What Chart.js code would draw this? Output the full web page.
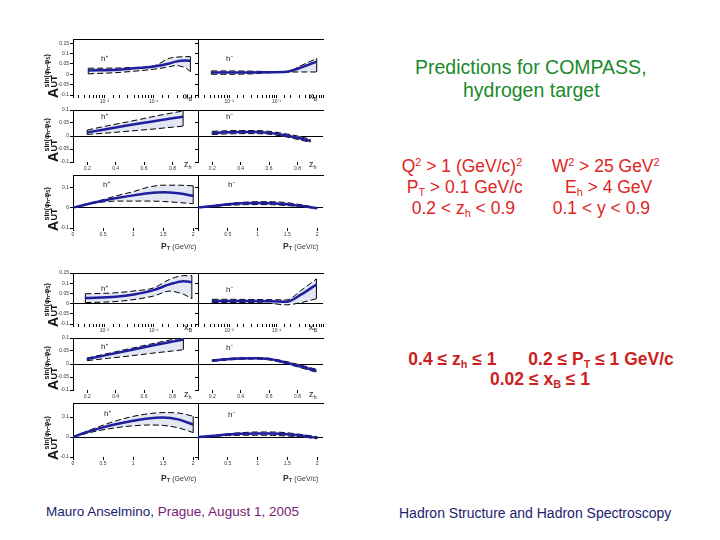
<!DOCTYPE html>
<html>
<head>
<meta charset="utf-8">
<script src="https://cdn.jsdelivr.net/npm/chart.js@4.4.1/dist/chart.umd.min.js"></script>
<style>
html,body{margin:0;padding:0;background:#fff;}
#page{position:relative;width:720px;height:540px;overflow:hidden;font-family:"Liberation Sans",Arial,sans-serif;background:#fff;}
#page canvas{position:absolute;}
.t{position:absolute;white-space:nowrap;line-height:1;}
.t sub,.t sup{font-size:62%;line-height:0;}
.t sub{vertical-align:-0.28em;}
.t sup{vertical-align:0.55em;}
.ylab{position:absolute;transform:rotate(-90deg);transform-origin:0 0;width:60px;height:20px;}
.ylab span{position:absolute;white-space:nowrap;line-height:1;color:#111;font-weight:bold;}
.ylab sub{font-size:70%;line-height:0;vertical-align:-0.2em;}
</style>
</head>
<body>
<div id="page"></div>
<script>
// ---------------- data ----------------
// tick values
const Y_TICKS_A = [-0.1, -0.05, 0, 0.05, 0.1, 0.15];
const Y_TICKS_B = [-0.1, -0.05, 0, 0.05, 0.1];
const Y_TICKS_C = [-0.1, 0, 0.1];
const Z_TICKS = [0.2, 0.4, 0.6, 0.8];
const PT_TICKS = [0, 0.5, 1, 1.5, 2];
const HADRONS = ['h<sup>+</sup>', 'h<sup>−</sup>'];

// Row 1: vs x_B (h+ / h-)
const A1_X = [0.0047, 0.018, 0.033, 0.1, 0.21, 0.28, 0.45, 0.56];
const A1_C = [0.018, 0.022, 0.027, 0.037, 0.052, 0.061, 0.066, 0.065];
const A1_U = [0.029, 0.030, 0.032, 0.040, 0.077, 0.082, 0.085, 0.085];
const A1_L = [0.002, 0.008, 0.013, 0.024, 0.036, 0.042, 0.030, 0.013];

const A2_X = [0.0042, 0.01, 0.03, 0.08, 0.16, 0.35, 0.7];
const A2_C = [0.008, 0.009, 0.009, 0.010, 0.012, 0.035, 0.061];
const A2_U = [0.016, 0.016, 0.015, 0.013, 0.013, 0.045, 0.076];
const A2_L = [0.000, 0.000, 0.002, 0.008, 0.011, 0.011, 0.011];

// Row 2: vs z_h
const B1_X = [0.2, 0.35, 0.5, 0.65, 0.8, 0.875];
const B1_C = [0.014, 0.028, 0.042, 0.055, 0.068, 0.074];
const B1_U = [0.023, 0.040, 0.056, 0.073, 0.089, 0.096];
const B1_L = [0.006, 0.012, 0.019, 0.026, 0.034, 0.038];

const B2_X = [0.2, 0.3, 0.4, 0.5, 0.6, 0.7, 0.8, 0.89];
const B2_C = [0.012, 0.014, 0.015, 0.015, 0.012, 0.004, -0.007, -0.019];
const B2_U = [0.018, 0.020, 0.021, 0.021, 0.018, 0.010, 0.000, -0.012];
const B2_L = [0.006, 0.008, 0.009, 0.009, 0.007, -0.001, -0.013, -0.024];

// Row 3: vs P_T
const C_X = [0, 0.25, 0.5, 0.75, 1, 1.25, 1.5, 1.75, 2];
const C1_C = [0, 0.018, 0.034, 0.048, 0.060, 0.070, 0.075, 0.070, 0.058];
const C1_U = [0, 0.020, 0.039, 0.060, 0.078, 0.100, 0.110, 0.110, 0.107];
const C1_L = [0, 0.016, 0.028, 0.032, 0.032, 0.032, 0.030, 0.025, 0.019];

const C2_C = [0, 0.008, 0.016, 0.021, 0.023, 0.022, 0.017, 0.008, -0.003];
const C2_U = [0, 0.010, 0.020, 0.026, 0.029, 0.029, 0.024, 0.013, 0.000];
const C2_L = [0, 0.006, 0.011, 0.014, 0.015, 0.014, 0.010, 0.004, -0.005];

// Row 4: vs x_B (restricted cuts)
const D1_X = [0.0041, 0.017, 0.04, 0.1, 0.21, 0.41, 0.6];
const D1_C = [0.027, 0.034, 0.045, 0.066, 0.094, 0.110, 0.106];
const D1_U = [0.048, 0.053, 0.062, 0.077, 0.118, 0.137, 0.137];
const D1_L = [0.005, 0.010, 0.020, 0.037, 0.061, 0.045, 0.024];

const D2_X = [0.0044, 0.01, 0.03, 0.08, 0.16, 0.33, 0.69];
const D2_C = [0.013, 0.013, 0.013, 0.012, 0.009, 0.045, 0.094];
const D2_U = [0.021, 0.021, 0.020, 0.019, 0.018, 0.065, 0.121];
const D2_L = [0.005, 0.005, 0.005, 0.000, -0.006, 0.005, 0.024];

// Row 5: vs z_h
const E1_X = [0.2, 0.35, 0.5, 0.65, 0.8, 0.877];
const E1_C = [0.019, 0.036, 0.053, 0.070, 0.086, 0.094];
const E1_U = [0.023, 0.041, 0.059, 0.077, 0.094, 0.100];
const E1_L = [0.013, 0.022, 0.031, 0.041, 0.050, 0.055];

const E2_X = [0.2, 0.3, 0.4, 0.5, 0.6, 0.7, 0.8, 0.93];
const E2_C = [0.013, 0.018, 0.021, 0.022, 0.019, 0.008, -0.006, -0.026];
const E2_U = [0.016, 0.021, 0.024, 0.025, 0.022, 0.012, -0.001, -0.020];
const E2_L = [0.010, 0.015, 0.018, 0.019, 0.016, 0.004, -0.011, -0.031];

// Row 6: vs P_T
const F_X = [0, 0.25, 0.5, 0.75, 1, 1.25, 1.5, 1.75, 2];
const F1_C = [0, 0.026, 0.048, 0.066, 0.081, 0.093, 0.097, 0.088, 0.062];
const F1_U = [0, 0.031, 0.059, 0.084, 0.103, 0.116, 0.122, 0.120, 0.104];
const F1_L = [0, 0.020, 0.036, 0.048, 0.056, 0.060, 0.058, 0.046, 0.022];

const F2_C = [0, 0.006, 0.012, 0.016, 0.018, 0.018, 0.014, 0.006, -0.004];
const F2_U = [0, 0.008, 0.016, 0.022, 0.025, 0.025, 0.021, 0.012, 0.002];
const F2_L = [0, 0.004, 0.007, 0.009, 0.009, 0.008, 0.005, 0.000, -0.009];

// ---------------- layout ----------------
const page = document.getElementById('page');
const FONT = '"Liberation Sans", Arial, sans-serif';
Chart.defaults.font.family = FONT;

const ROWS = [
  {top: 39,  bottom: 95,  ymin: -0.1, ymax: 0.17, yt: Y_TICKS_A, zero: false, kind: 'xB'},
  {top: 110, bottom: 162, ymin: -0.1, ymax: 0.1,  yt: Y_TICKS_B, zero: true,  kind: 'z'},
  {top: 175, bottom: 228, ymin: -0.1, ymax: 0.16, yt: Y_TICKS_C, zero: true,  kind: 'pt'},
  {top: 273, bottom: 324, ymin: -0.1, ymax: 0.15, yt: Y_TICKS_A, zero: true,  kind: 'xB'},
  {top: 338, bottom: 390, ymin: -0.1, ymax: 0.1,  yt: Y_TICKS_B, zero: true,  kind: 'z'},
  {top: 403, bottom: 457, ymin: -0.1, ymax: 0.17, yt: Y_TICKS_C, zero: true,  kind: 'pt'}
];

const PANELS = [
  {row: 0, side: 'L', x: A1_X, c: A1_C, u: A1_U, l: A1_L},
  {row: 0, side: 'R', x: A2_X, c: A2_C, u: A2_U, l: A2_L},
  {row: 1, side: 'L', x: B1_X, c: B1_C, u: B1_U, l: B1_L},
  {row: 1, side: 'R', x: B2_X, c: B2_C, u: B2_U, l: B2_L},
  {row: 2, side: 'L', x: C_X,  c: C1_C, u: C1_U, l: C1_L},
  {row: 2, side: 'R', x: C_X,  c: C2_C, u: C2_U, l: C2_L},
  {row: 3, side: 'L', x: D1_X, c: D1_C, u: D1_U, l: D1_L},
  {row: 3, side: 'R', x: D2_X, c: D2_C, u: D2_U, l: D2_L},
  {row: 4, side: 'L', x: E1_X, c: E1_C, u: E1_U, l: E1_L},
  {row: 4, side: 'R', x: E2_X, c: E2_C, u: E2_U, l: E2_L},
  {row: 5, side: 'L', x: F_X,  c: F1_C, u: F1_U, l: F1_L},
  {row: 5, side: 'R', x: F_X,  c: F2_C, u: F2_U, l: F2_L}
];

function sup10(v) {
  const e = Math.round(Math.log10(v));
  const m = {'-': '⁻', '0': '⁰', '1': '¹', '2': '²', '3': '³', '4': '⁴'};
  return '10' + String(e).split('').map(ch => m[ch]).join('');
}

function makePanel(p) {
  const r = ROWS[p.row];
  const left = p.side === 'L';
  const axW = left ? 40 : 8;
  const plotL = left ? 73 : 198;
  const plotW = 125, padT = 5, padR = 2, axH = 14;
  const W = axW + plotW + padR;
  const H = padT + (r.bottom - r.top) + axH;
  const cv = document.createElement('canvas');
  cv.width = W; cv.height = H;
  cv.style.left = (plotL - axW) + 'px';
  cv.style.top = (r.top - padT) + 'px';
  cv.style.width = W + 'px'; cv.style.height = H + 'px';
  page.appendChild(cv);

  const pts = ys => p.x.map((x, i) => ({x: x, y: ys[i]}));
  const n = p.x.length - 1;

  const tickFont = {family: FONT, size: 5};
  const xCommon = {
    position: 'bottom',
    grid: {display: true, drawOnChartArea: false, drawTicks: true, tickLength: 3, tickColor: '#000', color: '#000'},
    border: {display: false},
    afterFit: s => { s.height = axH; s.paddingLeft = 0; s.paddingRight = 0; }
  };
  let xScale;
  if (r.kind === 'xB') {
    xScale = Object.assign({}, xCommon, {
      type: 'logarithmic',
      min: left ? 0.0023 : 0.0022,
      max: left ? 0.8 : 0.95,
      ticks: {font: tickFont, color: '#333', padding: 1, maxRotation: 0, minRotation: 0, autoSkip: false,
        callback: v => { const lg = Math.log10(v); return Math.abs(lg - Math.round(lg)) < 1e-6 ? sup10(v) : ''; }}
    });
  } else if (r.kind === 'z') {
    xScale = Object.assign({}, xCommon, {
      type: 'linear', min: 0.1, max: 0.98,
      afterBuildTicks: s => { s.ticks = Z_TICKS.map(v => ({value: v})); },
      ticks: {font: tickFont, color: '#333', padding: 1, maxRotation: 0, minRotation: 0, autoSkip: false,
        callback: v => String(v)}
    });
  } else {
    xScale = Object.assign({}, xCommon, {
      type: 'linear', min: 0, max: left ? 2.08 : 2.1,
      afterBuildTicks: s => { s.ticks = PT_TICKS.map(v => ({value: v})); },
      ticks: {font: tickFont, color: '#333', padding: 1, maxRotation: 0, minRotation: 0, autoSkip: false,
        callback: v => (!left && v === 0) ? '' : String(v)}
    });
  }

  const lineBase = {pointRadius: 0, fill: false, cubicInterpolationMode: 'monotone'};
  new Chart(cv, {
    type: 'line',
    data: {
      datasets: [
        Object.assign({}, lineBase, {data: pts(p.l), borderColor: '#000', borderWidth: 1, borderDash: [6, 3], order: 2}),
        Object.assign({}, lineBase, {data: pts(p.u), borderColor: '#000', borderWidth: 1, borderDash: [6, 3], order: 3,
          fill: '-1', backgroundColor: '#e3e6f3'}),
        Object.assign({}, lineBase, {data: pts(p.c), borderColor: '#1f1f9e', borderWidth: 2.5, order: 0}),
        {data: [{x: p.x[0], y: p.l[0]}, {x: p.x[0], y: p.u[0]}], borderColor: '#000', borderWidth: 1, pointRadius: 0, fill: false, order: 1},
        {data: [{x: p.x[n], y: p.l[n]}, {x: p.x[n], y: p.u[n]}], borderColor: '#000', borderWidth: 1, pointRadius: 0, fill: false, order: 1}
      ]
    },
    options: {
      responsive: false, animation: false, devicePixelRatio: 1, events: [],
      layout: {padding: {top: padT, right: padR, left: 0, bottom: 0}},
      plugins: {legend: {display: false}, tooltip: {enabled: false}},
      scales: {
        x: xScale,
        x2: {type: 'linear', position: 'top', min: 0, max: 1,
             ticks: {display: false}, grid: {display: false},
             border: {display: true, color: '#000', width: 1},
             afterFit: s => { s.height = 0; s.paddingLeft = 0; s.paddingRight = 0; }},
        y: {
          type: 'linear', min: r.ymin, max: r.ymax,
          afterBuildTicks: s => { s.ticks = r.yt.map(v => ({value: v})); },
          ticks: {display: left, font: tickFont, color: '#333', padding: 1,
                  callback: v => String(Math.round(v * 100) / 100)},
          grid: {drawOnChartArea: true, drawTicks: true, tickLength: 3, tickColor: '#000', lineWidth: 1,
                 color: c => (r.zero && c.tick && Math.abs(c.tick.value) < 1e-9) ? '#000' : 'rgba(0,0,0,0)'},
          border: {display: true, color: '#000', width: 1},
          afterFit: s => { s.width = axW; s.paddingTop = 0; s.paddingBottom = 0; }
        }
      }
    }
  });
}
PANELS.forEach(makePanel);

// ---------------- text ----------------
function addText(html, left, baseline, size, color, bold) {
  const d = document.createElement('div');
  d.className = 't';
  d.innerHTML = html;
  d.style.left = left + 'px';
  d.style.top = (baseline - 0.8465 * size) + 'px';
  d.style.fontSize = size + 'px';
  d.style.color = color;
  if (bold) d.style.fontWeight = 'bold';
  page.appendChild(d);
  return d;
}

// y-axis titles
const YLAB_BOTTOM = [98, 162, 231, 327, 390, 460];
YLAB_BOTTOM.forEach(b => {
  const d = document.createElement('div');
  d.className = 'ylab';
  d.style.left = '43px';
  d.style.top = b + 'px';
  d.innerHTML =
    '<span style="left:0;top:3.1px;font-size:14px">A</span>' +
    '<span style="left:10.5px;top:0.4px;font-size:7px">sin(φ<sub>h</sub>-φ<sub>S</sub>)</span>' +
    '<span style="left:10.5px;top:7.4px;font-size:9px">UT</span>';
  page.appendChild(d);
});

// h+ / h- labels
const HL_LEFT = [[101, 61.5], [101, 120], [103, 188], [101, 291.5], [101, 350], [104, 416.5]];
const HL_RIGHT = [[226, 61.5], [226, 120], [228, 188], [226, 292.5], [226, 351], [228, 418]];
HL_LEFT.forEach(([x, b]) => addText(HADRONS[0], x, b, 8, '#222', false));
HL_RIGHT.forEach(([x, b]) => addText(HADRONS[1], x, b, 8, '#222', false));

// axis end labels
[[100, 'x<sub>B</sub>'], [168, 'z<sub>h</sub>'], [331, 'x<sub>B</sub>'], [398, 'z<sub>h</sub>']].forEach(([b, h]) => {
  addText(h, 184, b, 9, '#222', false);
  addText(h, 309, b, 9, '#222', false);
});
[249, 481].forEach(b => {
  addText('<b>P<sub>T</sub></b> <span style="font-size:7px">(GeV/c)</span>', 161, b, 8.5, '#333', false);
  addText('<b>P<sub>T</sub></b> <span style="font-size:7px">(GeV/c)</span>', 283, b, 8.5, '#333', false);
});

// right side
const GREEN = '#1b8a2b', RED = '#e02424', RED2 = '#cc1f1f';
addText('Predictions for COMPASS,', 415, 75, 19.5, GREEN, false);
addText('hydrogen target', 463, 98, 19.5, GREEN, false);

addText('Q<sup>2</sup> &gt; 1 (GeV/c)<sup>2</sup>', 401.7, 172.5, 17.5, RED, false);
addText('W<sup>2</sup> &gt; 25 GeV<sup>2</sup>', 551.7, 172.5, 17.5, RED, false);
addText('P<sub>T</sub> &gt; 0.1 GeV/c', 406.7, 193.5, 17.5, RED, false);
addText('E<sub>h</sub> &gt; 4 GeV', 565, 193.5, 17.5, RED, false);
addText('0.2 &lt; z<sub>h</sub> &lt; 0.9', 411.7, 215, 17.5, RED, false);
addText('0.1 &lt; y &lt; 0.9', 552.7, 215, 17.5, RED, false);

addText('0.4 ≤ z<sub>h</sub> ≤ 1', 408.3, 366, 17.5, RED2, true);
addText('0.2 ≤ P<sub>T</sub> ≤ 1 GeV/c', 528.3, 366, 17.5, RED2, true);
addText('0.02 ≤ x<sub>B</sub> ≤ 1', 490, 386, 17.5, RED2, true);

// footer
addText('<span style="color:#1a1a70">Mauro Anselmino,</span> <span style="color:#7a1a7a">Prague, August 1, 2005</span>', 46, 516.5, 13.5, '#1a1a70', false);
addText('Hadron Structure and Hadron Spectroscopy', 399, 518, 14, '#1c1c6c', false);
</script>
</body>
</html>
